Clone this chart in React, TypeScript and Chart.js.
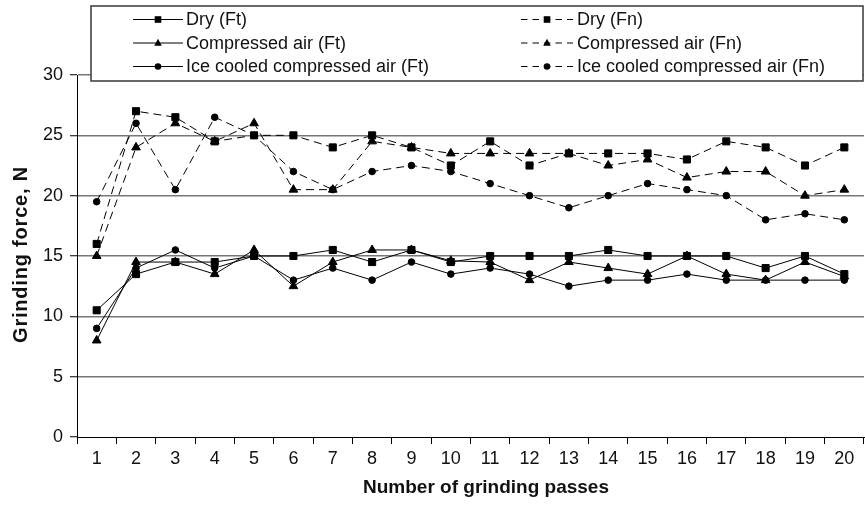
import React, { useEffect, useRef } from 'react';
import { Chart, registerables } from 'chart.js';

Chart.register(...registerables);

const passes = ['1', '2', '3', '4', '5', '6', '7', '8', '9', '10', '11', '12', '13', '14', '15', '16', '17', '18', '19', '20'];

const dryFt = [10.5, 13.5, 14.5, 14.5, 15, 15, 15.5, 14.5, 15.5, 14.5, 15, 15, 15, 15.5, 15, 15, 15, 14, 15, 13.5];
const compressedFt = [8, 14.5, 14.5, 13.5, 15.5, 12.5, 14.5, 15.5, 15.5, 14.6, 14.5, 13, 14.5, 14, 13.5, 15, 13.5, 13, 14.5, 13.3];
const iceFt = [9, 14, 15.5, 14, 15, 13, 14, 13, 14.5, 13.5, 14, 13.5, 12.5, 13, 13, 13.5, 13, 13, 13, 13];

const dryFn = [16, 27, 26.5, 24.5, 25, 25, 24, 25, 24, 22.5, 24.5, 22.5, 23.5, 23.5, 23.5, 23, 24.5, 24, 22.5, 24];
const compressedFn = [15, 24, 26, 24.5, 26, 20.5, 20.5, 24.5, 24, 23.5, 23.5, 23.5, 23.5, 22.5, 23, 21.5, 22, 22, 20, 20.5];
const iceFn = [19.5, 26, 20.5, 26.5, 25, 22, 20.5, 22, 22.5, 22, 21, 20, 19, 20, 21, 20.5, 20, 18, 18.5, 18];

const yMin = 0;
const yMax = 30;
const yStep = 5;

const xTitle = 'Number of grinding passes';
const yTitle = 'Grinding force, N';

const FONT = '"Liberation Sans", Arial, Helvetica, sans-serif';

type Series = { label: string; data: number[]; style: 'rect' | 'triangle' | 'circle'; dashed: boolean };

const series: Series[] = [
  { label: 'Dry (Ft)', data: dryFt, style: 'rect', dashed: false },
  { label: 'Compressed air (Ft)', data: compressedFt, style: 'triangle', dashed: false },
  { label: 'Ice cooled compressed air (Ft)', data: iceFt, style: 'circle', dashed: false },
  { label: 'Dry (Fn)', data: dryFn, style: 'rect', dashed: true },
  { label: 'Compressed air (Fn)', data: compressedFn, style: 'triangle', dashed: true },
  { label: 'Ice cooled compressed air (Fn)', data: iceFn, style: 'circle', dashed: true },
];

const pointRadius = { rect: 5, triangle: 5, circle: 3.3 };

function drawMarker(ctx: CanvasRenderingContext2D, style: string, x: number, y: number, s: number) {
  ctx.beginPath();
  if (style === 'rect') {
    ctx.rect(x - s / 2, y - s / 2, s, s);
  } else if (style === 'triangle') {
    const h = s * 0.95;
    ctx.moveTo(x, y - h * 0.6);
    ctx.lineTo(x + s / 2, y + h * 0.4);
    ctx.lineTo(x - s / 2, y + h * 0.4);
    ctx.closePath();
  } else {
    ctx.arc(x, y, s / 2, 0, Math.PI * 2);
  }
  ctx.fill();
}

const overlayPlugin = {
  id: 'overlay',
  afterDraw(chart: any) {
    const ctx: CanvasRenderingContext2D = chart.ctx;
    ctx.save();
    // legend box
    const bx = 91, by = 6, bw = 772, bh = 75;
    ctx.fillStyle = '#ffffff';
    ctx.fillRect(bx, by, bw, bh);
    ctx.strokeStyle = '#444';
    ctx.lineWidth = 1.6;
    ctx.strokeRect(bx, by, bw, bh);
    const rows = [19.5, 43, 66.5];
    const cols = [
      { x0: 133, x1: 183, tx: 186 },
      { x0: 521, x1: 573, tx: 577 },
    ];
    ctx.font = '18px ' + FONT;
    ctx.textBaseline = 'middle';
    ctx.textAlign = 'left';
    series.forEach((s, i) => {
      const col = cols[s.dashed ? 1 : 0];
      const y = rows[i % 3];
      ctx.strokeStyle = '#000';
      ctx.lineWidth = 1;
      ctx.setLineDash(s.dashed ? [6.5, 5] : []);
      ctx.beginPath();
      ctx.moveTo(col.x0, y);
      ctx.lineTo(col.x1, y);
      ctx.stroke();
      ctx.setLineDash([]);
      ctx.fillStyle = '#000';
      drawMarker(ctx, s.style, (col.x0 + col.x1) / 2, y, s.style === 'triangle' ? 7.5 : 6.6);
      ctx.fillStyle = '#111';
      ctx.fillText(s.label, col.tx, y + 1);
    });
    // axis titles
    ctx.fillStyle = '#111';
    ctx.font = 'bold 19px ' + FONT;
    ctx.textBaseline = 'alphabetic';
    ctx.textAlign = 'center';
    ctx.fillText(xTitle, 486, 493);
    ctx.translate(26.5, 254.5);
    ctx.rotate(-Math.PI / 2);
    ctx.font = 'bold 20px ' + FONT;
    try {
      (ctx as any).letterSpacing = '0.8px';
    } catch (e) {
      /* ignore */
    }
    ctx.fillText(yTitle, 0, 0);
    ctx.restore();
  },
};

export default function App() {
  const canvasRef = useRef<HTMLCanvasElement | null>(null);

  useEffect(() => {
    if (!canvasRef.current) return;
    const chart = new Chart(canvasRef.current, {
      type: 'line',
      data: {
        labels: passes,
        datasets: series.map((s) => ({
          label: s.label,
          data: s.data,
          borderColor: '#000',
          backgroundColor: '#000',
          borderWidth: 1,
          borderDash: s.dashed ? [8, 5] : [],
          pointStyle: s.style,
          pointRadius: pointRadius[s.style],
          pointBackgroundColor: '#000',
          pointBorderColor: '#000',
          pointBorderWidth: 1,
          fill: false,
          tension: 0,
        })),
      },
      options: {
        responsive: false,
        animation: false,
        events: [],
        layout: { padding: { top: 75, right: 1, left: 0, bottom: 0 } },
        plugins: {
          legend: { display: false },
          title: { display: false },
          tooltip: { enabled: false },
        },
        scales: {
          x: {
            type: 'category',
            offset: true,
            grid: {
              display: true,
              drawOnChartArea: false,
              drawTicks: true,
              tickLength: 7,
              tickColor: '#000',
              tickWidth: 1,
              offset: true,
              color: '#000',
            },
            border: { display: true, color: '#000', width: 1 },
            ticks: {
              font: { size: 18, family: FONT },
              color: '#111',
              padding: 4,
              maxRotation: 0,
              autoSkip: false,
            },
            afterFit: (scale: any) => {
              scale.height = 68;
            },
          },
          y: {
            min: yMin,
            max: yMax,
            ticks: {
              stepSize: yStep,
              font: { size: 18, family: FONT },
              color: '#111',
              padding: 7,
            },
            grid: {
              color: (c: any) => (c.tick && c.tick.value === 0 ? 'rgba(0,0,0,0)' : '#777'),
              lineWidth: 1.5,
              tickColor: '#000',
              tickWidth: 1,
              tickLength: 7,
            },
            border: { display: true, color: '#000', width: 1 },
            afterFit: (scale: any) => {
              scale.width = 77;
            },
          },
        },
      },
      plugins: [overlayPlugin],
    });
    return () => chart.destroy();
  }, []);

  return (
    <div style={{ position: 'fixed', left: 0, top: 0, width: 865, height: 505, overflow: 'hidden', background: '#fff' }}>
      <canvas ref={canvasRef} width={870} height={505} style={{ display: 'block', width: 870, height: 505 }} />
    </div>
  );
}
